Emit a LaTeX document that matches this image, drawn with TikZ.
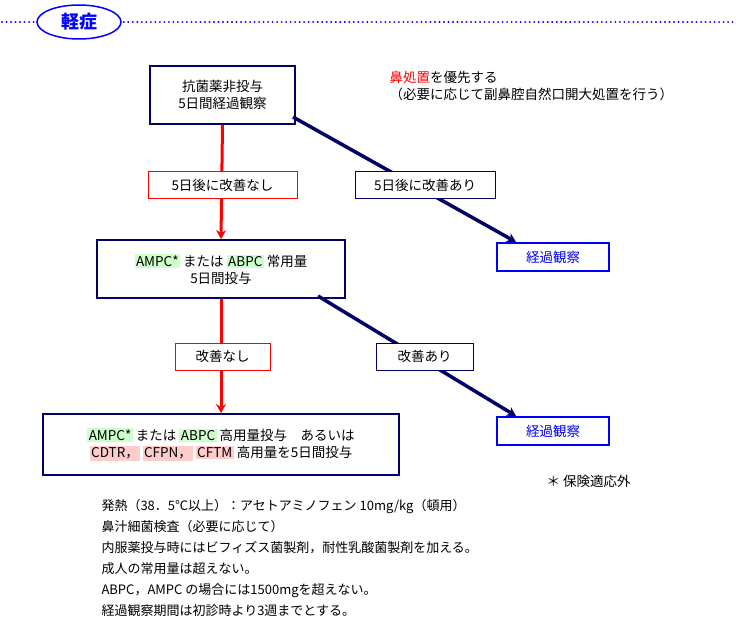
\documentclass[tikz,border=0pt]{standalone}
\usepackage{fontspec}
\setmainfont{Noto Sans CJK JP}
\usetikzlibrary{arrows.meta,shapes.geometric}
\definecolor{navy}{HTML}{000066}
\definecolor{hg}{HTML}{CCFFCC}
\definecolor{hp}{HTML}{FFCCCC}
\setlength{\fboxsep}{1.5pt}
\newcommand{\hgr}[1]{\colorbox{hg}{#1}}
\newcommand{\hpk}[1]{\colorbox{hp}{#1}}
\begin{document}
\begin{tikzpicture}[x=1pt,y=-1pt,
  every node/.style={font=\fontsize{13.5}{17}\selectfont},
  box/.style={draw=navy,line width=1.8pt,fill=white,align=center,inner sep=0},
  lbl/.style={draw=navy,line width=1pt,fill=white,inner sep=0},
  lblr/.style={draw=red,line width=1pt,fill=white,inner sep=0},
  bbox/.style={draw=blue,line width=1.6pt,fill=white,text=blue,inner sep=0},
  nav/.style={draw=navy,line width=3.5pt,-{Stealth[length=9pt,width=10pt]}},
  redarr/.style={draw=red,line width=3pt,-{Stealth[length=9pt,width=10pt]}}]
\useasboundingbox (0,0) rectangle (736,636);
\draw[blue,line width=2.2pt,dash pattern=on 0.01pt off 4.5pt,line cap=round] (2,22) -- (736,22);
\node[draw=blue,line width=1.5pt,ellipse,fill=white,minimum width=84pt,minimum height=34pt,inner sep=0,text=blue,font=\fontsize{18}{18}\selectfont\bfseries] (hd) at (79,22) {軽症};
\node[box,minimum width=145pt,minimum height=58pt] (b1) at (222.5,95) {抗菌薬非投与\\5日間経過観察};
\node[anchor=west,align=left] (pr) at (386,86) {\textcolor{red}{鼻処置}を優先する\\（必要に応じて副鼻腔自然口開大処置を行う）};
\node[box,minimum width=248pt,minimum height=58pt] (b2) at (221,269) {\hgr{AMPC*} または \hgr{ABPC} 常用量\\5日間投与};
\node[box,minimum width=356pt,minimum height=61pt] (b3) at (221,444.5) {\hgr{AMPC*} または \hgr{ABPC} 高用量投与\quad あるいは\\\hpk{CDTR，}\,\hpk{CFPN，}\,\hpk{CFTM} 高用量を5日間投与};
\node[bbox,minimum width=112pt,minimum height=28pt] (o1) at (553,257) {経過観察};
\node[bbox,minimum width=112pt,minimum height=28pt] (o2) at (553,431) {経過観察};
\coordinate (s1) at (293,117);
\coordinate (e1) at (516,242);
\coordinate (s2) at (318,296);
\coordinate (e2) at (516,416);
\draw[nav] (s1) -- (e1);
\draw[nav] (s2) -- (e2);
\draw[redarr] (b1.south) -- (b2.north);
\draw[redarr] (b2.south) -- (b3.north);
\node[lblr,minimum width=149pt,minimum height=27pt] (l1) at (222.5,185.5) {5日後に改善なし};
\node[lbl,minimum width=140pt,minimum height=27pt] (l2) at (425,185.5) {5日後に改善あり};
\node[lblr,minimum width=95pt,minimum height=27pt] (l3) at (222.5,356.5) {改善なし};
\node[lbl,minimum width=97pt,minimum height=27pt] (l4) at (424.5,356.5) {改善あり};
\node[anchor=west] (ns) at (543,481) {＊ 保険適応外};
\node[anchor=north west,align=left,font=\fontsize{13}{21}\selectfont] (nt) at (98,496) {発熱（38．5℃以上）：アセトアミノフェン 10mg/kg（頓用）\\鼻汁細菌検査（必要に応じて）\\内服薬投与時にはビフィズス菌製剤，耐性乳酸菌製剤を加える。\\成人の常用量は超えない。\\ABPC，AMPC の場合には1500mgを超えない。\\経過観察期間は初診時より3週までとする。};
\end{tikzpicture}
\end{document}
